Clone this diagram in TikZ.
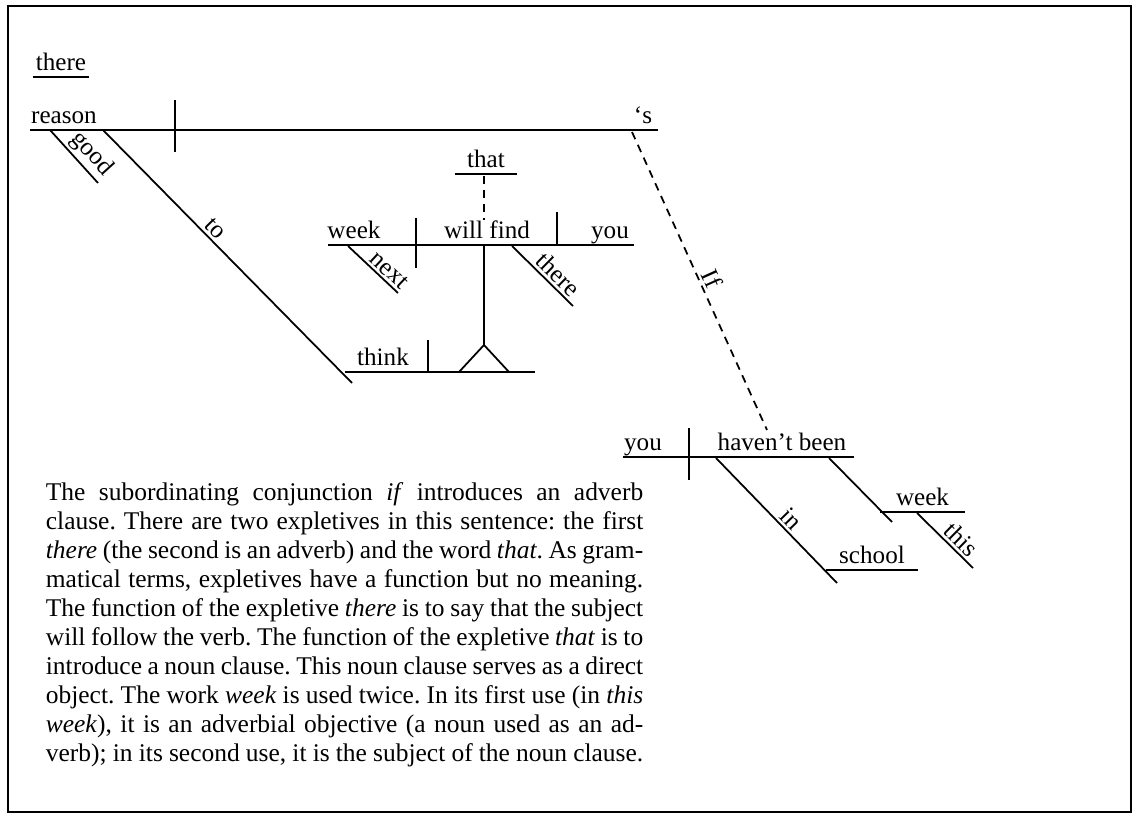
\documentclass[tikz,border=0pt]{standalone}
\usepackage{fontspec}
\setmainfont{Liberation Serif}
\usetikzlibrary{calc, positioning}

\begin{document}
\begin{tikzpicture}[x=0.02cm, y=-0.02cm, line width=1pt,
  word/.style={anchor=base, yshift=3.5pt, inner sep=0pt, font=\fontsize{14.3}{16}\selectfont},
  slantword/.style={sloped, above, inner sep=1.5pt, font=\fontsize{14.3}{16}\selectfont},
  link/.style={dash pattern=on 4.5pt off 3.5pt}]
\useasboundingbox (0,0) rectangle (1139,824);
\draw (8,6) rectangle (1131,812);

% expletive there
\coordinate (ThA) at (33,77);
\coordinate (ThB) at (89,77);
\draw (ThA) -- (ThB) node[word, midway] (there) {there};

% main clause
\coordinate (MainA) at (30,130);
\coordinate (MainB) at (658,130);
\coordinate (MainV) at (175,130);
\draw (MainA) -- (MainB);
\draw ($(MainV)+(0,-30)$) -- ($(MainV)+(0,22)$);
\node[word] (reason) at (64,130) {reason};
\node[word] (is) at (643,130) {`s};

\coordinate (GoodA) at (50,130);
\coordinate (GoodB) at (98,183);
\draw (GoodA) -- (GoodB) node[slantword, pos=0.64] (good) {good};

% infinitive to think
\coordinate (ToA) at (103,130);
\coordinate (ToB) at (352,383);
\draw (ToA) -- (ToB) node[slantword, pos=0.42] (to) {to};
\coordinate (ThinkA) at (345,372);
\coordinate (ThinkB) at (535,372);
\coordinate (ThinkV) at (428,372);
\draw (ThinkA) -- (ThinkB);
\draw (ThinkV) -- ++(0,-32);
\node[word] (think) at (383,372) {think};

% noun clause on a stilt
\coordinate (FindA) at (328,245);
\coordinate (FindB) at (634,245);
\coordinate (Stem) at (484,245);
\coordinate (Fork) at (484,345);
\coordinate (ForkL) at (459,372);
\coordinate (ForkR) at (509,372);
\draw (Stem) -- (Fork);
\draw (ForkL) -- (Fork) -- (ForkR);
\draw (FindA) -- (FindB);
\draw (416,218) -- (416,268);
\draw (557,212) -- (557,245);
\node[word] (week) at (354,245) {week};
\node[word] (find) at (487,245) {will find};
\node[word] (you) at (610,245) {you};

\coordinate (ThatA) at (455,174);
\coordinate (ThatB) at (517,174);
\draw (ThatA) -- (ThatB) node[word, midway] (that) {that};
\draw[link] (484,176) -- (484,220);

\coordinate (NextA) at (348,246);
\coordinate (NextB) at (398,293);
\draw (NextA) -- (NextB) node[slantword, pos=0.68] (next) {next};
\coordinate (AdvA) at (512,246);
\coordinate (AdvB) at (573,306);
\draw (AdvA) -- (AdvB) node[slantword, pos=0.62] (there2) {there};

% adverb clause
\coordinate (IfA) at (632,132);
\coordinate (IfB) at (767,430);
\draw[link] (IfA) -- (IfB) node[slantword, pos=0.51] (if) {If};

\coordinate (BeenA) at (623,457);
\coordinate (BeenB) at (854,457);
\draw (BeenA) -- (BeenB);
\draw (689,428) -- (689,480);
\node[word] (you2) at (643,457) {you};
\node[word] (been) at (782,457) {haven't been};

\coordinate (InA) at (716,458);
\coordinate (InB) at (837,583);
\draw (InA) -- (InB) node[slantword, pos=0.55] (in) {in};
\coordinate (SchoolA) at (826,570);
\coordinate (SchoolB) at (918,570);
\draw (SchoolA) -- (SchoolB) node[word, midway] (school) {school};

\coordinate (WeekA) at (829,458);
\coordinate (WeekB) at (892,522);
\draw (WeekA) -- (WeekB);
\coordinate (WeekC) at (880,512);
\coordinate (WeekD) at (965,512);
\draw (WeekC) -- (WeekD) node[word, midway] (week2) {week};
\coordinate (ThisA) at (917,513);
\coordinate (ThisB) at (973,568);
\draw (ThisA) -- (ThisB) node[slantword, pos=0.64] (this) {this};

% explanation
\node[anchor=north west, inner sep=0pt, text width=11.95cm, align=justify,
  font=\fontsize{14.5}{16.5}\selectfont\frenchspacing] (note) at (45,482) {%
The subordinating conjunction \textit{if} introduces an adverb\linebreak
clause. There are two expletives in this sentence: the first\linebreak
\textit{there} (the second is an adverb) and the word \textit{that}. As gram-\linebreak
matical terms, expletives have a function but no meaning.\linebreak
The function of the expletive \textit{there} is to say that the subject\linebreak
will follow the verb. The function of the expletive \textit{that} is to\linebreak
introduce a noun clause. This noun clause serves as a direct\linebreak
object. The work \textit{week} is used twice. In its first use (in \textit{this}\linebreak
\textit{week}), it is an adverbial objective (a noun used as an ad-\linebreak
verb); in its second use, it is the subject of the noun clause.};
\end{tikzpicture}
\end{document}
